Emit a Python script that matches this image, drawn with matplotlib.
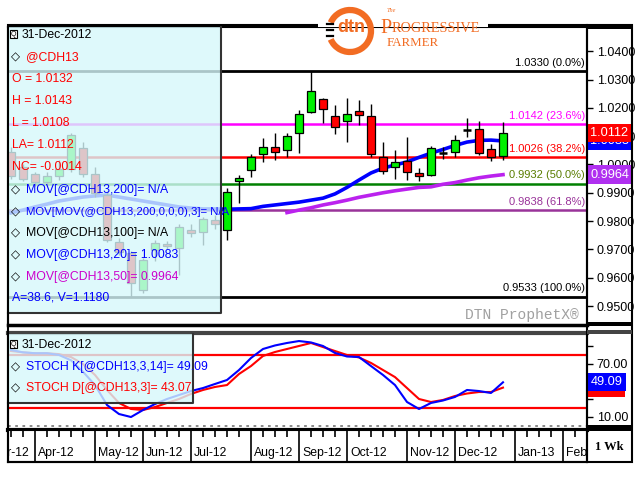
import matplotlib
matplotlib.use("Agg")
import matplotlib.pyplot as plt
import numpy as np
import pandas as pd
from matplotlib.patches import Rectangle, Arc

plt.rcParams["font.family"] = ["Liberation Sans", "DejaVu Sans"]

# weekly bars of @CDH13
week_start = pd.date_range("2012-03-19", "2012-12-31", freq="W-MON")
opens = [1.0045, 0.9990, 0.9965, 0.9938, 0.9960, 0.9985, 1.0058, 0.9965, 0.9892, 0.9726,
         0.9687, 0.9557, 0.9698, 0.9718, 0.9705, 0.9769, 0.9761, 0.9805, 0.9770, 0.9940,
         0.9980, 1.0037, 1.0061, 1.0051, 1.0110, 1.0186, 1.0230, 1.0171, 1.0155, 1.0190,
         1.0171, 1.0025, 0.9990, 1.0013, 0.9971, 0.9963, 1.0040, 1.0045, 1.0120, 1.0124,
         1.0054, 1.0030]
highs = [1.0060, 1.0000, 0.9975, 0.9975, 1.0015, 1.0112, 1.0079, 0.9990, 0.9905, 0.9740,
         0.9695, 0.9670, 0.9735, 0.9730, 0.9790, 0.9790, 0.9815, 0.9822, 0.9916, 0.9963,
         1.0037, 1.0092, 1.0112, 1.0112, 1.0192, 1.0330, 1.0236, 1.0210, 1.0236, 1.0228,
         1.0213, 1.0080, 1.0051, 1.0098, 0.9986, 1.0064, 1.0062, 1.0104, 1.0164, 1.0155,
         1.0072, 1.0150]
lows = [0.9950, 0.9940, 0.9925, 0.9925, 0.9945, 0.9975, 0.9955, 0.9885, 0.9725, 0.9680,
        0.9533, 0.9545, 0.9660, 0.9700, 0.9610, 0.9745, 0.9716, 0.9772, 0.9733, 0.9865,
        0.9957, 1.0010, 1.0016, 1.0027, 1.0039, 1.0183, 1.0147, 1.0106, 1.0080, 1.0140,
        1.0027, 0.9965, 0.9950, 0.9945, 0.9942, 0.9958, 1.0019, 1.0027, 1.0098, 1.0033,
        1.0013, 1.0017]
closes = [0.9960, 0.9950, 0.9938, 0.9960, 0.9985, 1.0104, 0.9965, 0.9900, 0.9733, 0.9692,
          0.9582, 0.9663, 0.9723, 0.9712, 0.9779, 0.9758, 0.9807, 0.9790, 0.9904, 0.9951,
          1.0027, 1.0063, 1.0045, 1.0100, 1.0177, 1.0259, 1.0195, 1.0133, 1.0178, 1.0176,
          1.0036, 0.9978, 1.0010, 0.9974, 0.9958, 1.0059, 1.0042, 1.0086, 1.0118, 1.0041,
          1.0027, 1.0112]
ma20 = [0.9829, 0.9839, 0.9850, 0.9860, 0.9871, 0.9878, 0.9885, 0.9889, 0.9892, 0.9885,
        0.9878, 0.9871, 0.9864, 0.9857, 0.9850, 0.9846, 0.9843, 0.9843, 0.9842, 0.9843,
        0.9844, 0.9852, 0.9857, 0.9862, 0.9867, 0.9874, 0.9881, 0.9896, 0.9919, 0.9945,
        0.9970, 0.9987, 0.9998, 1.0009, 1.0025, 1.0040, 1.0053, 1.0067, 1.0079, 1.0085,
        1.0086, 1.0083]
ma50 = [np.nan] * 23 + [0.9830, 0.9839, 0.9847, 0.9857, 0.9865, 0.9874, 0.9884, 0.9892,
                        0.9900, 0.9907, 0.9913, 0.9919, 0.9921, 0.9930, 0.9936, 0.9945,
                        0.9953, 0.9959, 0.9964]
stoch_k = [85.7, 83.0, 82.0, 82.0, 80.0, 74.0, 61.0, 46.0, 23.4, 13.2,
           9.8, 17.7, 24.5, 30.2, 34.7, 39.2, 42.6, 47.2, 51.7, 63.0,
           76.6, 86.8, 90.8, 93.6, 95.8, 94.2, 90.2, 82.3, 78.3, 77.7,
           67.5, 57.4, 46.0, 26.8, 18.9, 25.7, 28.5, 32.5, 40.4, 39.2,
           37.0, 49.09]
stoch_d = [84.5, 83.0, 82.0, 82.0, 81.0, 77.7, 69.8, 57.4, 40.4, 25.7,
           18.9, 17.7, 21.1, 25.7, 30.2, 35.9, 40.4, 43.8, 46.0, 58.5,
           67.5, 78.9, 83.4, 86.8, 90.2, 93.6, 89.0, 84.5, 80.0, 77.2,
           71.0, 63.0, 55.0, 42.6, 30.2, 26.8, 29.1, 33.6, 36.4, 38.1,
           38.1, 43.07]

fib_levels = [1.0330, 1.0142, 1.0026, 0.9932, 0.9838, 0.9533]
fib_pcts = ["0.0%", "23.6%", "38.2%", "50.0%", "61.8%", "100.0%"]
fib_line_colors = ["black", "#ff00ff", "#ff0000", "#008000", "#993399", "black"]
fib_text_colors = ["black", "#ff00ff", "#ff0000", "#5a7d00", "#993399", "black"]

price_ticks = [0.95, 0.96, 0.97, 0.98, 0.99, 1.00, 1.01, 1.02, 1.03, 1.04]

W_PX, H_PX = 640, 480
FS = 8.2
fig = plt.figure(figsize=(6.4, 4.8), dpi=100)


def fx(px):
    return px / W_PX


def fy(py):
    return 1 - py / H_PX


def axes_px(x0, y0, x1, y1):
    return fig.add_axes([fx(x0), fy(y1), fx(x1) - fx(x0), fy(y0) - fy(y1)])


def fig_rect(x0, y0, x1, y1, **kw):
    r = Rectangle((fx(x0), fy(y1)), fx(x1) - fx(x0), fy(y0) - fy(y1),
                  transform=fig.transFigure, **kw)
    fig.add_artist(r)
    return r


def fig_line(xs_px, ys_px, **kw):
    fig.add_artist(plt.Line2D([fx(v) for v in xs_px], [fy(v) for v in ys_px],
                              transform=fig.transFigure, **kw))


ax = axes_px(8, 27, 587, 325)
ax2 = axes_px(8, 333, 587, 430)
axx = axes_px(8, 430, 587, 462)
XMIN, XMAX = -0.25, 48.0
xs = np.arange(len(week_start))

# ---- price panel
for lvl, pct, lc, tc in zip(fib_levels, fib_pcts, fib_line_colors, fib_text_colors):
    ax.axhline(lvl, color=lc, lw=2 if lc == "black" else 1.8, zorder=1)
    ax.annotate(f"{lvl:.4f} ({pct})", xy=(1, lvl), xycoords=("axes fraction", "data"),
                xytext=(-1.5, 2.5), textcoords="offset points", ha="right", va="bottom",
                color=tc, fontsize=FS - 0.2, annotation_clip=False, zorder=5)

ax.plot(xs, ma20, color="#0000ff", lw=2.6, zorder=2)
ax.plot(xs, ma50, color="#bb22ee", lw=2.6, zorder=2)

for x, o, h, l, c in zip(xs, opens, highs, lows, closes):
    ax.vlines(x, l, h, color="black", lw=1, zorder=3)
    if abs(c - o) < 0.0004:
        ax.hlines(o, x - 0.35, x + 0.35, color="black", lw=1.8, zorder=4)
    else:
        ax.add_patch(Rectangle((x - 0.35, min(o, c)), 0.7, abs(c - o),
                               fc="#00f000" if c > o else "#ff0000",
                               ec="black", lw=0.9, zorder=4))

ax.set_xlim(XMIN, XMAX)
ax.set_ylim(0.94331, 1.04854)
ax.set_xticks([])
ax.yaxis.tick_right()
ax.set_yticks(price_ticks)
ax.set_yticklabels([f"{t:.4f}" for t in price_ticks])
ax.tick_params(axis="y", direction="out", length=4, width=1, pad=3, labelsize=FS + 0.8)
for side, sp in ax.spines.items():
    sp.set_color("black")
    sp.set_linewidth(2.5 if side == "bottom" else 1.5)

ax.text(0.985, 0.035, "DTN ProphetX\u00ae", transform=ax.transAxes, ha="right",
        va="center", family="Liberation Mono", fontsize=10.5, color="#a0a0a0", zorder=5)

for val, fc in [(ma20[-1], "#0000ff"), (closes[-1], "#ff0000"), (ma50[-1], "#b030f0")]:
    ax.annotate(f"{val:.4f}", xy=(1, val), xycoords=("axes fraction", "data"),
                xytext=(2.5, 0), textcoords="offset points", ha="left", va="center",
                color="white", fontsize=FS + 1, annotation_clip=False, zorder=10,
                bbox=dict(boxstyle="square,pad=0.25", fc=fc, ec="none"))

# ---- stochastic panel
ax2.axhline(80, color="#ff0000", lw=1.6, zorder=1)
ax2.axhline(20, color="#ff0000", lw=1.6, zorder=1)
ax2.axhline(0, color="#808080", lw=1.3, ls=(0, (1.5, 2.5)), zorder=1)
ax2.plot(xs, stoch_k, color="#0000ff", lw=1.5, zorder=3)
ax2.plot(xs, stoch_d, color="#ff0000", lw=1.5, zorder=2)
ax2.set_xlim(XMIN, XMAX)
ax2.set_ylim(-4.9, 104.9)
ax2.set_xticks([])
ax2.yaxis.tick_right()
ax2.set_yticks([10, 30, 50, 70, 90])
ax2.set_yticklabels(["10.00", "", "", "70.00", ""])
ax2.tick_params(axis="y", direction="out", length=4, width=1, pad=3, labelsize=FS + 0.8)
for side, sp in ax2.spines.items():
    sp.set_color("#444444" if side == "top" else "black")
    sp.set_linewidth(3 if side in ("top", "bottom") else 1.5)
for val, fc in [(stoch_d[-1], "#ff0000"), (stoch_k[-1], "#0000ff")]:
    ax2.annotate(f"{val:.2f}", xy=(1, val), xycoords=("axes fraction", "data"),
                 xytext=(2.5, 0), textcoords="offset points", ha="left", va="center",
                 color="white", fontsize=FS + 1, annotation_clip=False, zorder=10,
                 bbox=dict(boxstyle="square,pad=0.25", fc=fc, ec="none"))

# ---- date row
axx.set_xlim(XMIN, XMAX)
axx.set_ylim(0, 1)
axx.set_xticks([])
axx.set_yticks([])
for sp in axx.spines.values():
    sp.set_linewidth(1.5)
mondays = pd.date_range("2012-03-05", "2013-02-18", freq="W-MON")
for d in mondays:
    x = (d - week_start[0]).days / 7
    if d.day <= 7:
        axx.vlines(x, 0, 1, color="black", lw=1.2)
        axx.text(x + 0.25, 0.28, d.strftime("%b-%y"), ha="left", va="center",
                 fontsize=FS + 0.6, clip_on=True)
    else:
        axx.vlines(x, 0.78, 1, color="black", lw=1.2)

# ---- info boxes
fig_rect(8, 27, 221, 313, fc="#d6f8fb", alpha=0.8, ec="none", zorder=1)
fig_line([221, 221, 8], [27, 313, 313], color="#333333", lw=1.5, zorder=2)
fig_rect(8, 334, 193, 403, fc="#d6f8fb", alpha=0.8, ec="none", zorder=1)
fig_line([193, 193, 8], [334, 403, 403], color="#333333", lw=1.5, zorder=2)


def info(x, y, s, color, size=FS + 0.6):
    fig.text(fx(x), fy(y), s, color=color, fontsize=size, ha="left", va="center", zorder=6)


def diamond(x, y):
    fig.text(fx(x), fy(y), "\u25c7", color="black", fontsize=8.5, ha="left", va="center",
             family="DejaVu Sans", fontweight="bold", zorder=6)


def icon(x, y):
    fig_rect(x, y, x + 7, y + 8, fc="white", ec="black", lw=0.8, zorder=6)
    fig.text(fx(x + 3.5), fy(y + 4), "Q", fontsize=5, ha="center", va="center", zorder=7)


icon(10, 30)
info(22, 35, "31-Dec-2012", "black")
diamond(11, 57)
info(26, 57, "@CDH13", "#ff0000")
for k, s in enumerate(["O = 1.0132", "H = 1.0143", "L = 1.0108", "LA= 1.0112", "NC= -0.0014"]):
    info(12, 79 + 22 * k, s, "#ff0000")
mov_rows = [("MOV[@CDH13,200]= N/A", "#0000ff"),
            ("MOV[MOV(@CDH13,200,0,0,0),3]= N/A", "#0000ff"),
            ("MOV[@CDH13,100]= N/A", "black"),
            ("MOV[@CDH13,20]= 1.0083", "#0000ff"),
            ("MOV[@CDH13,50]= 0.9964", "#cc00cc")]
for k, (s, c) in enumerate(mov_rows):
    diamond(11, 190 + 21.7 * k)
    info(26, 190 + 21.7 * k, s, c, size=FS if k == 1 else FS + 0.6)
info(12, 298, "A=38.6, V=1.1180", "#0000ff")

icon(10, 340)
info(22, 345, "31-Dec-2012", "black")
diamond(11, 367)
info(26, 367, "STOCH K[@CDH13,3,14]= 49.09", "#0000ff")
diamond(11, 388)
info(26, 388, "STOCH D[@CDH13,3]= 43.07", "#ff0000")

# ---- outer frame and right column
fig_rect(8, 25, 632, 462, fc="none", ec="black", lw=1.5, zorder=8)
fig_line([587, 587], [25, 462], color="black", lw=1.5, zorder=8)
fig_rect(587, 25, 632, 29, fc="black", ec="none", zorder=8)
fig_rect(587, 322, 632, 326, fc="black", ec="none", zorder=8)
fig_rect(587, 330, 632, 334, fc="#444444", ec="none", zorder=8)
fig_rect(587, 425, 632, 431, fc="black", ec="none", zorder=8)
fig.text(fx(609), fy(447), "1 Wk", ha="center", va="center", fontsize=9,
         fontweight="bold", family="Liberation Serif")

# ---- logo
orange = "#f26c23"
fig_rect(318, 0, 488, 26.5, fc="white", ec="none", zorder=8.5)
fig.add_artist(Arc((fx(350), fy(31)), fx(42), 42 / H_PX, theta1=-150, theta2=150,
                   transform=fig.transFigure, color=orange, lw=4.5, zorder=9))
for yy in (24, 30, 36):
    fig_line([327, 333], [yy, yy], color="black", lw=1.6, zorder=9)
fig.text(fx(351), fy(27), "dtn", color=orange, fontsize=13, fontweight="bold",
         ha="center", va="center", zorder=9)
fig.text(fx(391), fy(11), "The", color=orange, fontsize=4.5, style="italic",
         family="Liberation Serif", ha="center", va="center", zorder=9)
fig.text(fx(380), fy(33), "P", color=orange, fontsize=14.5,
         family="Liberation Serif", ha="left", va="baseline", zorder=9)
fig.text(fx(392), fy(32), "ROGRESSIVE", color=orange, fontsize=10.3,
         family="Liberation Serif", ha="left", va="baseline", zorder=9)
fig.text(fx(387), fy(46), "FARMER", color=orange, fontsize=9.3,
         family="Liberation Serif", ha="left", va="baseline", zorder=9)

fig.savefig("out.png", dpi=100)
